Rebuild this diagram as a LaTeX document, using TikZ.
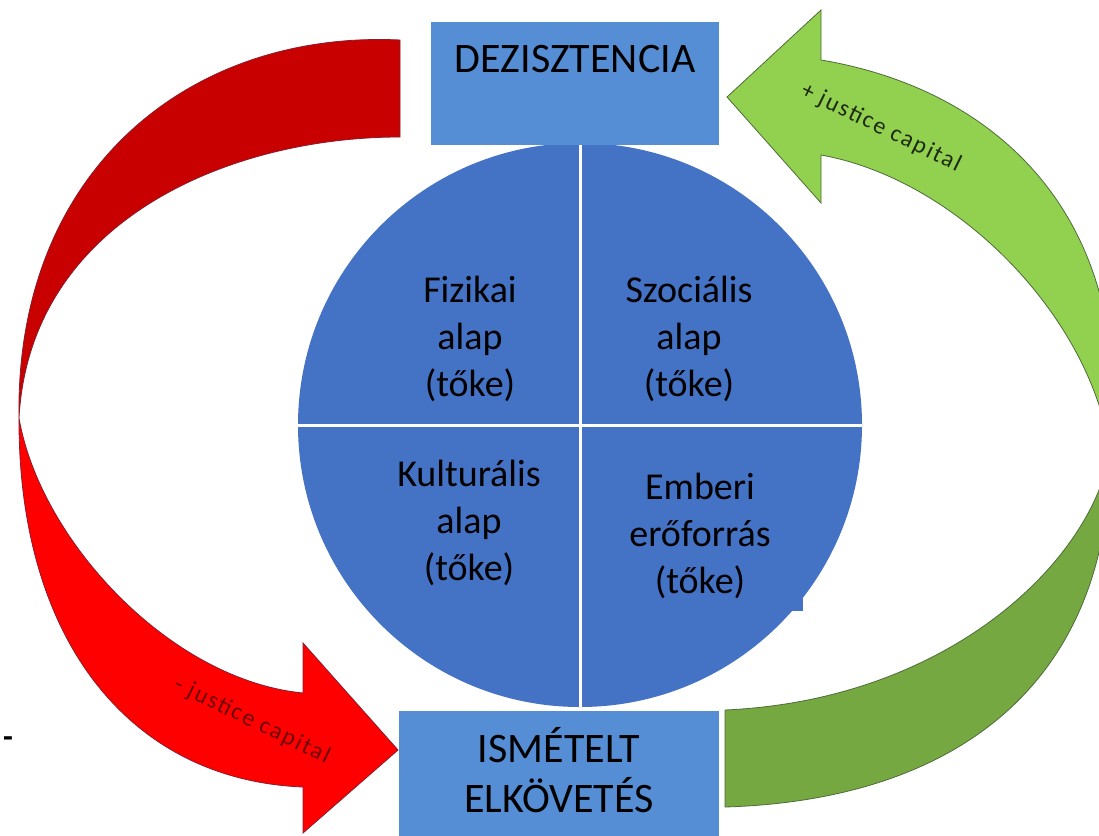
\documentclass[tikz,border=0pt]{standalone}
\usepackage{fontspec}
\setmainfont{Carlito}
\newfontfamily\lblfont[LetterSpace=8]{Carlito}
\definecolor{boxblue}{HTML}{558ED5}
\definecolor{circblue}{HTML}{4472C4}
\definecolor{redback}{HTML}{C80000}
\definecolor{redfront}{HTML}{FF0000}
\definecolor{redline}{HTML}{8A1C2C}
\definecolor{greenback}{HTML}{92D050}
\definecolor{greenfront}{HTML}{76A842}
\definecolor{greenline}{HTML}{4F6B3A}
\definecolor{redlabel}{HTML}{6E0000}
\definecolor{greenlabel}{HTML}{1E2A12}
\tikzset{
  bigbox/.style={fill=boxblue, draw=none, inner sep=0pt},
  boxtext/.style={font=\fontsize{42}{50}\selectfont, text=black, anchor=base, inner sep=0pt},
  quadtext/.style={font=\fontsize{38}{47}\selectfont, text=black, align=center, inner sep=0pt},
  arrowlabel/.style={font=\lblfont\fontsize{24}{26}\selectfont, inner sep=0pt, rotate=-26},
  redband/.style={draw=redline, line width=0.8pt, line join=miter},
  greenband/.style={draw=greenline, line width=0.8pt, line join=miter},
  divider/.style={draw=white, line width=3pt}
}
\begin{document}
\begin{tikzpicture}[x=1pt,y=-1pt]
\useasboundingbox (0,0) rectangle (1099,835);
\fill[white] (0,0) rectangle (1099,835);
\begin{scope}
\clip (0,0) rectangle (1099,835);
% named points of the arrows
\coordinate (rtwist) at (19,418);
\coordinate (gtwist) at (1110,452);
% red arrow: back (upper) part
\filldraw[redband, fill=redback]
  (400,40) .. controls (190,30) and (15,170) .. (rtwist)
  .. controls (30,220) and (230,137) .. (400,137) -- cycle;
% red arrow: front (lower) part with head
\filldraw[redband, fill=redfront]
  (rtwist) .. controls (18,640) and (130,780) .. (303,787)
  -- (303,833) -- (398,750) -- (303,643) -- (303,693)
  .. controls (170,680) and (40,540) .. (rtwist) -- cycle;
% green arrow: back (upper) part with head
\filldraw[greenband, fill=greenback]
  (821,60) .. controls (1000,90) and (1135,220) .. (gtwist)
  .. controls (1092,320) and (960,180) .. (821,155)
  -- (821,203) -- (727,97) -- (821,10) -- cycle;
% green arrow: front (lower) part
\filldraw[greenband, fill=greenfront]
  (gtwist) .. controls (1110,680) and (960,800) .. (725,807)
  -- (725,710) .. controls (950,700) and (1092,560) .. (gtwist) -- cycle;
\end{scope}
% central disc
\node[circle, fill=circblue, minimum size=564pt, inner sep=0pt] (disc) at (580,425) {};
\fill[circblue] (760,560) rectangle (803,611);
\draw[divider] (disc.north) -- (disc.south);
\draw[divider] (disc.west) -- (disc.east);
% boxes
\node[bigbox, minimum width=288pt, minimum height=123pt] (dez) at (575,83.5) {};
\node[boxtext] (dezt) at (575,72) {DEZISZTENCIA};
\node[bigbox, minimum width=320pt, minimum height=130pt] (ism) at (559,776) {};
\node[boxtext] (ismt1) at (559,762) {ISMÉTELT};
\node[boxtext] (ismt2) at (559,812) {ELKÖVETÉS};
% quadrant texts
\node[quadtext] (fiz) at (470,339) {Fizikai\\alap\\(tőke)};
\node[quadtext] (szo) at (689,339) {Szociális\\alap\\(tőke)};
\node[quadtext] (kul) at (469,523) {Kulturális\\alap\\(tőke)};
\node[quadtext] (emb) at (700,536) {Emberi\\erőforrás\\(tőke)};
% arrow labels
\node[arrowlabel, text=greenlabel] (plus) at (881,128) {+ justice capital};
\node[arrowlabel, text=redlabel] (minus) at (252,721) {- justice capital};
\node[font=\fontsize{32}{32}\selectfont\bfseries, inner sep=0pt] (dash) at (8,742) {-};
\end{tikzpicture}
\end{document}
